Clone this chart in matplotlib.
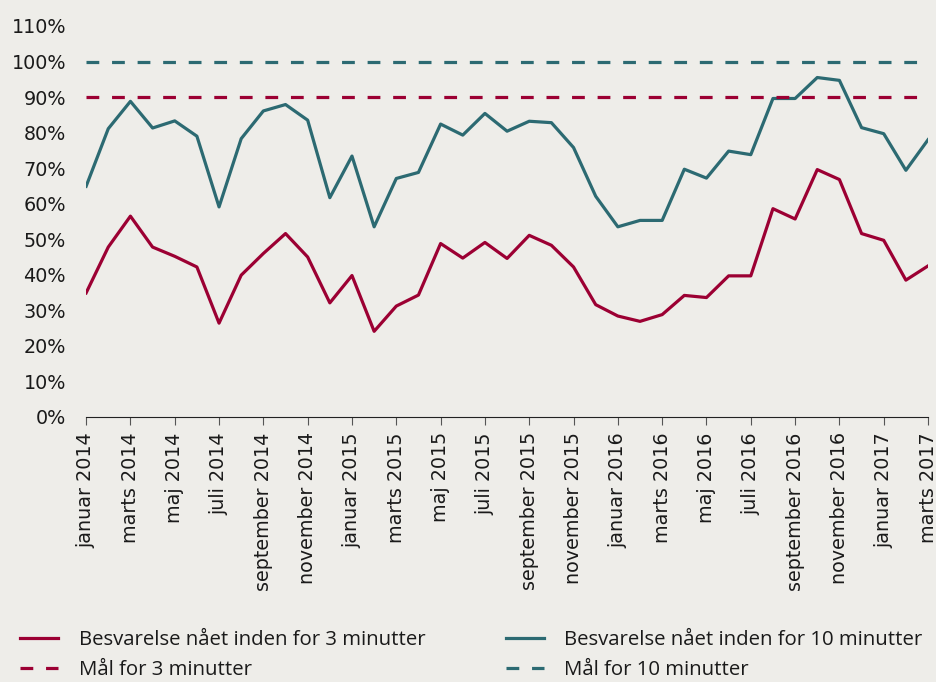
import matplotlib.pyplot as plt
from matplotlib.ticker import FuncFormatter

# data (andel af besvarelser, procent)
months = ["januar", "februar", "marts", "april", "maj", "juni", "juli", "august",
          "september", "oktober", "november", "december"]
labels = []
for year in [2014, 2015, 2016, 2017]:
    for m in months:
        labels.append(m + " " + str(year))
labels = labels[:39]  # januar 2014 - marts 2017

within_3 = [34.9, 47.8, 56.5, 47.8, 45.2, 42.2, 26.4, 39.9, 46.0, 51.6, 45.0, 32.1,
            39.8, 24.1, 31.2, 34.3, 48.8, 44.7, 49.1, 44.6, 51.1, 48.3, 42.2, 31.6,
            28.4, 26.9, 28.8, 34.2, 33.6, 39.7, 39.7, 58.6, 55.7, 69.6, 66.8, 51.6,
            49.7, 38.5, 42.5]
within_10 = [64.9, 81.1, 88.8, 81.3, 83.3, 79.0, 59.1, 78.3, 86.1, 87.9, 83.5, 61.7,
             73.4, 53.5, 67.1, 68.8, 82.4, 79.3, 85.4, 80.4, 83.2, 82.8, 75.8, 62.1,
             53.5, 55.3, 55.3, 69.7, 67.2, 74.8, 73.8, 89.6, 89.6, 95.5, 94.7, 81.4,
             79.7, 69.4, 78.0]
goal_3 = 90
goal_10 = 100

red = "#9c0033"
teal = "#2c6a72"
bg = "#eeede9"

plt.rcParams['font.family'] = ['DejaVu Sans']

fig = plt.figure(figsize=(9.36, 6.82), dpi=100, facecolor=bg)
ax = fig.add_axes([0.092, 0.3886, 0.8995, 0.5733], facecolor=bg)

x = list(range(len(labels)))
ax.plot(x, within_3, color=red, lw=2.3, label="Besvarelse nået inden for 3 minutter")
ax.plot(x, within_10, color=teal, lw=2.3, label="Besvarelse nået inden for 10 minutter")
ax.plot(x, [goal_3] * len(x), color=red, lw=2.3, dashes=(4, 4), dash_capstyle='butt',
        label="Mål for 3 minutter")
ax.plot(x, [goal_10] * len(x), color=teal, lw=2.3, dashes=(4, 4), dash_capstyle='butt',
        label="Mål for 10 minutter")

ax.set_xlim(0, len(x) - 1)
ax.set_ylim(0, 110)
ax.set_yticks(range(0, 111, 10))
ax.yaxis.set_major_formatter(FuncFormatter(lambda v, p: "%d%%" % v))
ax.set_xticks(x[::2])
ax.set_xticklabels(labels[::2], rotation=90, fontsize=13.8)

for s in ["top", "right", "left"]:
    ax.spines[s].set_visible(False)
ax.spines["bottom"].set_color("#222222")
ax.tick_params(axis="y", length=0, labelsize=13.8, pad=14.5, colors="#1a1a1a")
ax.tick_params(axis="x", length=6, color="#555555", pad=5, labelcolor="#1a1a1a")

handles, lbls = ax.get_legend_handles_labels()
order = [0, 2, 1, 3]
fig.legend([handles[i] for i in order], [lbls[i] for i in order],
           loc="lower left", bbox_to_anchor=(0.002, -0.024), ncol=2, frameon=False,
           prop={"family": "Open Sans", "size": 14.7}, handlelength=1.86,
           columnspacing=3.95, labelspacing=0.5, handletextpad=1.0,
           labelcolor="#1a1a1a")

fig.savefig("out.png", dpi=100, facecolor=bg)
